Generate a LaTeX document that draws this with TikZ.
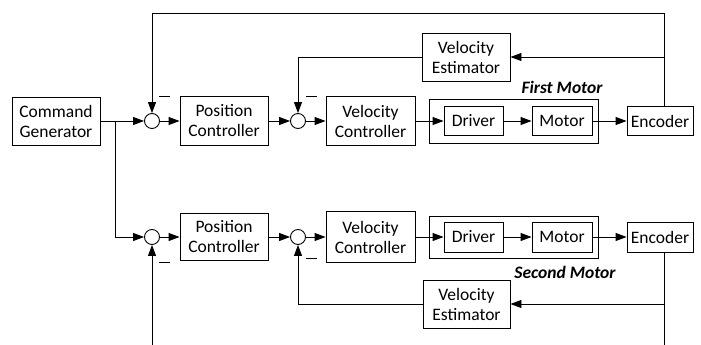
\documentclass[tikz,border=0pt]{standalone}
\usepackage{fontspec}
\setmainfont{Carlito}
\usetikzlibrary{arrows.meta,calc}
\begin{document}
\begin{tikzpicture}[x=1pt,y=-1pt,
  every node/.style={font=\fontsize{17.5}{20}\selectfont},
  blk/.style={draw,line width=0.9pt,inner sep=0pt,align=center},
  sumc/.style={draw,line width=0.9pt,circle,inner sep=0pt,minimum size=15pt},
  wire/.style={line width=0.9pt},
  sig/.style={wire,-{Triangle[length=11pt,width=8pt]}},
  minus/.style={inner sep=0pt},
  tag/.style={font=\fontsize{17.5}{20}\selectfont\bfseries\itshape}]
\newcommand{\minussign}{\rule{11pt}{0.9pt}}
\useasboundingbox (0,0) rectangle (701,345);

% ---------- first motor loop ----------
\node[blk,minimum width=88pt,minimum height=48pt] (cg) at (56,121) {Command\\Generator};
\node[sumc] (s1a) at (152,121) {};
\node[blk,minimum width=88pt,minimum height=49pt] (pc1) at (224,121) {Position\\Controller};
\node[sumc] (s2a) at (298,121) {};
\node[blk,minimum width=89pt,minimum height=49pt] (vc1) at (370.5,121) {Velocity\\Controller};
\node[blk,minimum width=169pt,minimum height=44pt] (fm1) at (513.5,121) {};
\node[blk,minimum width=59pt,minimum height=29pt] (dr1) at (473.5,121) {Driver};
\node[blk,minimum width=60pt,minimum height=29pt] (mo1) at (562,121) {Motor};
\node[blk,minimum width=66pt,minimum height=29pt] (en1) at (660,121) {Encoder};
\node[blk,minimum width=88pt,minimum height=48pt] (ve1) at (466,57) {Velocity\\Estimator};
\node[tag] (lb1) at (562,87) {First Motor};
\node[minus] (m1a) at (164.5,96) {\minussign};
\node[minus] (m2a) at (311.5,96) {\minussign};

\coordinate (top) at (664,13);
\coordinate (j) at (115,121);

\draw[sig] (cg.east) -- (s1a.west);
\draw[sig] (s1a.east) -- (pc1.west);
\draw[sig] (pc1.east) -- (s2a.west);
\draw[sig] (s2a.east) -- (vc1.west);
\draw[sig] (vc1.east) -- (dr1.west);
\draw[sig] (dr1.east) -- (mo1.west);
\draw[sig] (mo1.east) -- (en1.west);
\draw[sig] (en1.north -| top) -- (top) -| (s1a.north);
\draw[sig] (top |- ve1.east) -- (ve1.east);
\draw[sig] (ve1.west) -| (s2a.north);

% ---------- second motor loop ----------
\node[sumc] (s1b) at (152,237) {};
\node[blk,minimum width=88pt,minimum height=47pt] (pc2) at (224,237) {Position\\Controller};
\node[sumc] (s2b) at (298,237) {};
\node[blk,minimum width=89pt,minimum height=51pt] (vc2) at (370.5,237) {Velocity\\Controller};
\node[blk,minimum width=169pt,minimum height=42pt] (fm2) at (513.5,237) {};
\node[blk,minimum width=59pt,minimum height=30pt] (dr2) at (473.5,237) {Driver};
\node[blk,minimum width=60pt,minimum height=30pt] (mo2) at (562,237) {Motor};
\node[blk,minimum width=66pt,minimum height=30pt] (en2) at (660,237) {Encoder};
\node[blk,minimum width=87pt,minimum height=48pt] (ve2) at (466.5,304) {Velocity\\Estimator};
\node[tag] (lb2) at (565,272) {Second Motor};
\node[minus] (m1b) at (164.5,262) {\minussign};
\node[minus] (m2b) at (311.5,258) {\minussign};

\coordinate (bot1) at (152,345);
\coordinate (bot2) at (664,345);

\draw[sig] (j) |- (s1b.west);
\draw[sig] (s1b.east) -- (pc2.west);
\draw[sig] (pc2.east) -- (s2b.west);
\draw[sig] (s2b.east) -- (vc2.west);
\draw[sig] (vc2.east) -- (dr2.west);
\draw[sig] (dr2.east) -- (mo2.west);
\draw[sig] (mo2.east) -- (en2.west);
\draw[wire] (en2.south -| bot2) -- (bot2);
\draw[sig] (bot2 |- ve2.east) -- (ve2.east);
\draw[sig] (ve2.west) -| (s2b.south);
\draw[sig] (bot1) -- (s1b.south);
\end{tikzpicture}
\end{document}
